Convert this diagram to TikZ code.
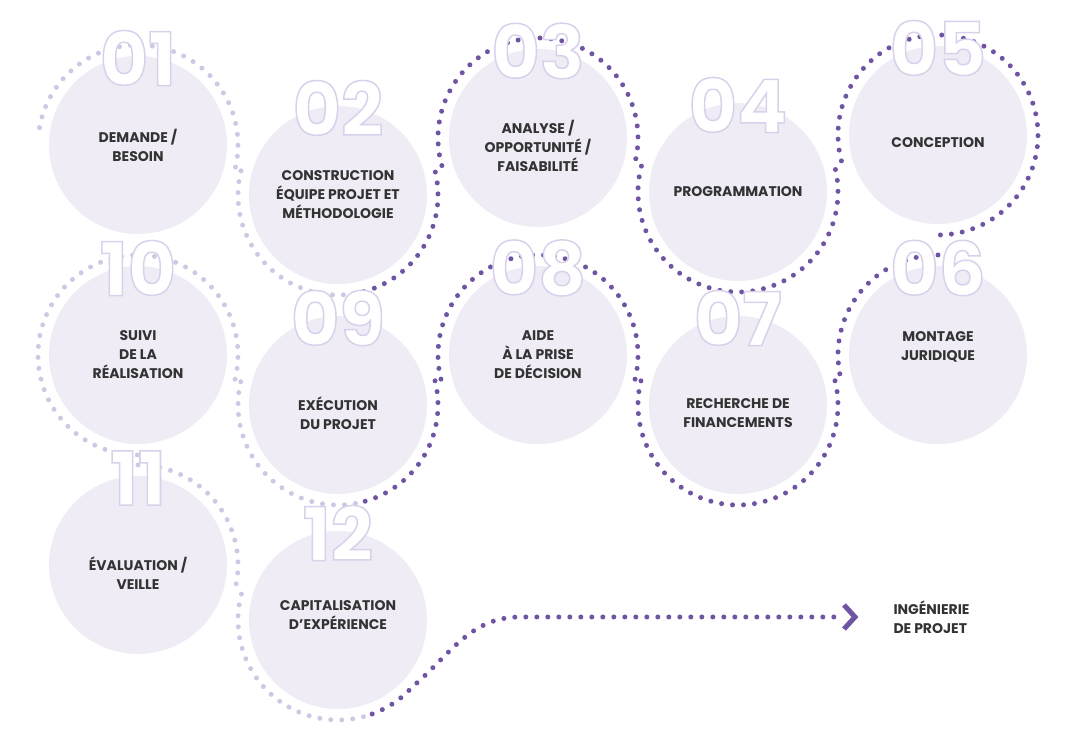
\documentclass[tikz,border=0pt]{standalone}
\usepackage{fontspec}
\setmainfont{Poppins}
\usetikzlibrary{calc}
\definecolor{circ}{HTML}{EFECF6}
\definecolor{lite}{HTML}{CFC8E4}
\definecolor{dark}{HTML}{6E54A3}
\definecolor{txt}{HTML}{333333}
\newcommand{\outlnum}[1]{\special{pdf:literal direct 2 Tr 1.5 w 0.85 0.82 0.92 RG}#1\special{pdf:literal direct 0 Tr}}
\begin{document}
\begin{tikzpicture}[x=1pt,y=1pt,
  disc/.style={circle,fill=circ,minimum size=178pt,inner sep=0pt},
  lbl/.style={font=\fontsize{14}{19}\selectfont\bfseries,text=txt,align=center},
  num/.style={font=\fontsize{74}{74}\selectfont\bfseries,text=white,inner sep=0pt},
  dotl/.style={lite,line width=5pt,line cap=round,dash pattern=on 0pt off 11pt},
  dotd/.style={dark,line width=5pt,line cap=round,dash pattern=on 0pt off 11pt}]
\useasboundingbox (0,0) rectangle (1072,750);
\coordinate (c1) at (138,605);
\coordinate (c2) at (338,555);
\coordinate (c3) at (538,612);
\coordinate (c4) at (738,558);
\coordinate (c5) at (938,615);
\coordinate (c6) at (938,395);
\coordinate (c7) at (738,345);
\coordinate (c8) at (538,395);
\coordinate (c9) at (338,345);
\coordinate (c10) at (138,395);
\coordinate (c11) at (138,185);
\coordinate (c12) at (338,130);
% dotted path
\draw[dotl] ($(c1)+(170:100pt)$) arc[start angle=170,end angle=-14,radius=100pt];
\draw[dotl] ($(c2)+(166:100pt)$) arc[start angle=166,end angle=285,radius=100pt];
\draw[dotd] ($(c2)+(285:100pt)$) arc[start angle=285,end angle=376,radius=100pt];
\draw[dotd] ($(c3)+(196:100pt)$) arc[start angle=196,end angle=-15,radius=100pt];
\draw[dotd] ($(c4)+(165:100pt)$) arc[start angle=165,end angle=375,radius=100pt];
\draw[dotd] ($(c5)+(195:100pt)$) arc[start angle=195,end angle=-90,radius=100pt];
\draw[dotd] ($(c6)+(90:100pt)$) arc[start angle=90,end angle=194,radius=100pt];
\draw[dotd] ($(c7)+(14:100pt)$) arc[start angle=14,end angle=-194,radius=100pt];
\draw[dotd] ($(c8)+(-14:100pt)$) arc[start angle=-14,end angle=194,radius=100pt];
\draw[dotd] ($(c9)+(14:100pt)$) arc[start angle=14,end angle=-80,radius=100pt];
\draw[dotl] ($(c9)+(-80:100pt)$) arc[start angle=-80,end angle=-194,radius=100pt];
\draw[dotl] ($(c10)+(-14:100pt)$) arc[start angle=-14,end angle=270,radius=100pt];
\draw[dotl] ($(c11)+(90:100pt)$) arc[start angle=90,end angle=-15,radius=100pt];
\draw[dotl] ($(c12)+(165:100pt)$) arc[start angle=165,end angle=290,radius=100pt];
\coordinate (tip) at (838,133);
\draw[dotd] ($(c12)+(290:100pt)$) arc[start angle=290,end angle=318,radius=100pt]
  .. controls (450,95) and (470,133) .. (520,133) -- (tip);
% discs
\foreach \i in {1,...,12} \node[disc] (d\i) at (c\i) {};
% numbers
\foreach \i/\t in {1/01,2/02,3/03,4/04,5/05,6/06,7/07,8/08,9/09,10/10,11/11,12/12}
  \node[num] (n\i) at ($(c\i)+(0,87)$) {\outlnum{\t}};
% labels
\node[lbl] (l1) at (d1) {DEMANDE /\\BESOIN};
\node[lbl] (l2) at (d2) {CONSTRUCTION\\ÉQUIPE PROJET ET\\MÉTHODOLOGIE};
\node[lbl] (l3) at ($(d3)+(0,-8)$) {ANALYSE /\\OPPORTUNITÉ /\\FAISABILITÉ};
\node[lbl] (l4) at (d4) {PROGRAMMATION};
\node[lbl] (l5) at ($(d5)+(0,-8)$) {CONCEPTION};
\node[lbl] (l6) at ($(d6)+(0,8)$) {MONTAGE\\JURIDIQUE};
\node[lbl] (l7) at ($(d7)+(0,-8)$) {RECHERCHE DE\\FINANCEMENTS};
\node[lbl] (l8) at (d8) {AIDE\\À LA PRISE\\DE DÉCISION};
\node[lbl] (l9) at ($(d9)+(0,-8)$) {EXÉCUTION\\DU PROJET};
\node[lbl] (l10) at (d10) {SUIVI\\DE LA\\RÉALISATION};
\node[lbl] (l11) at ($(d11)+(0,-8)$) {ÉVALUATION /\\VEILLE};
\node[lbl] (l12) at ($(d12)+(0,5)$) {CAPITALISATION\\D’EXPÉRIENCE};
% arrow head and final label
\draw[dark,line width=5pt,line join=miter] ($(tip)+(6,12)$) -- ($(tip)+(17,0)$) -- ($(tip)+(6,-12)$);
\node[lbl,align=left,anchor=west] (ing) at (890,133) {INGÉNIERIE\\DE PROJET};
\end{tikzpicture}
\end{document}
